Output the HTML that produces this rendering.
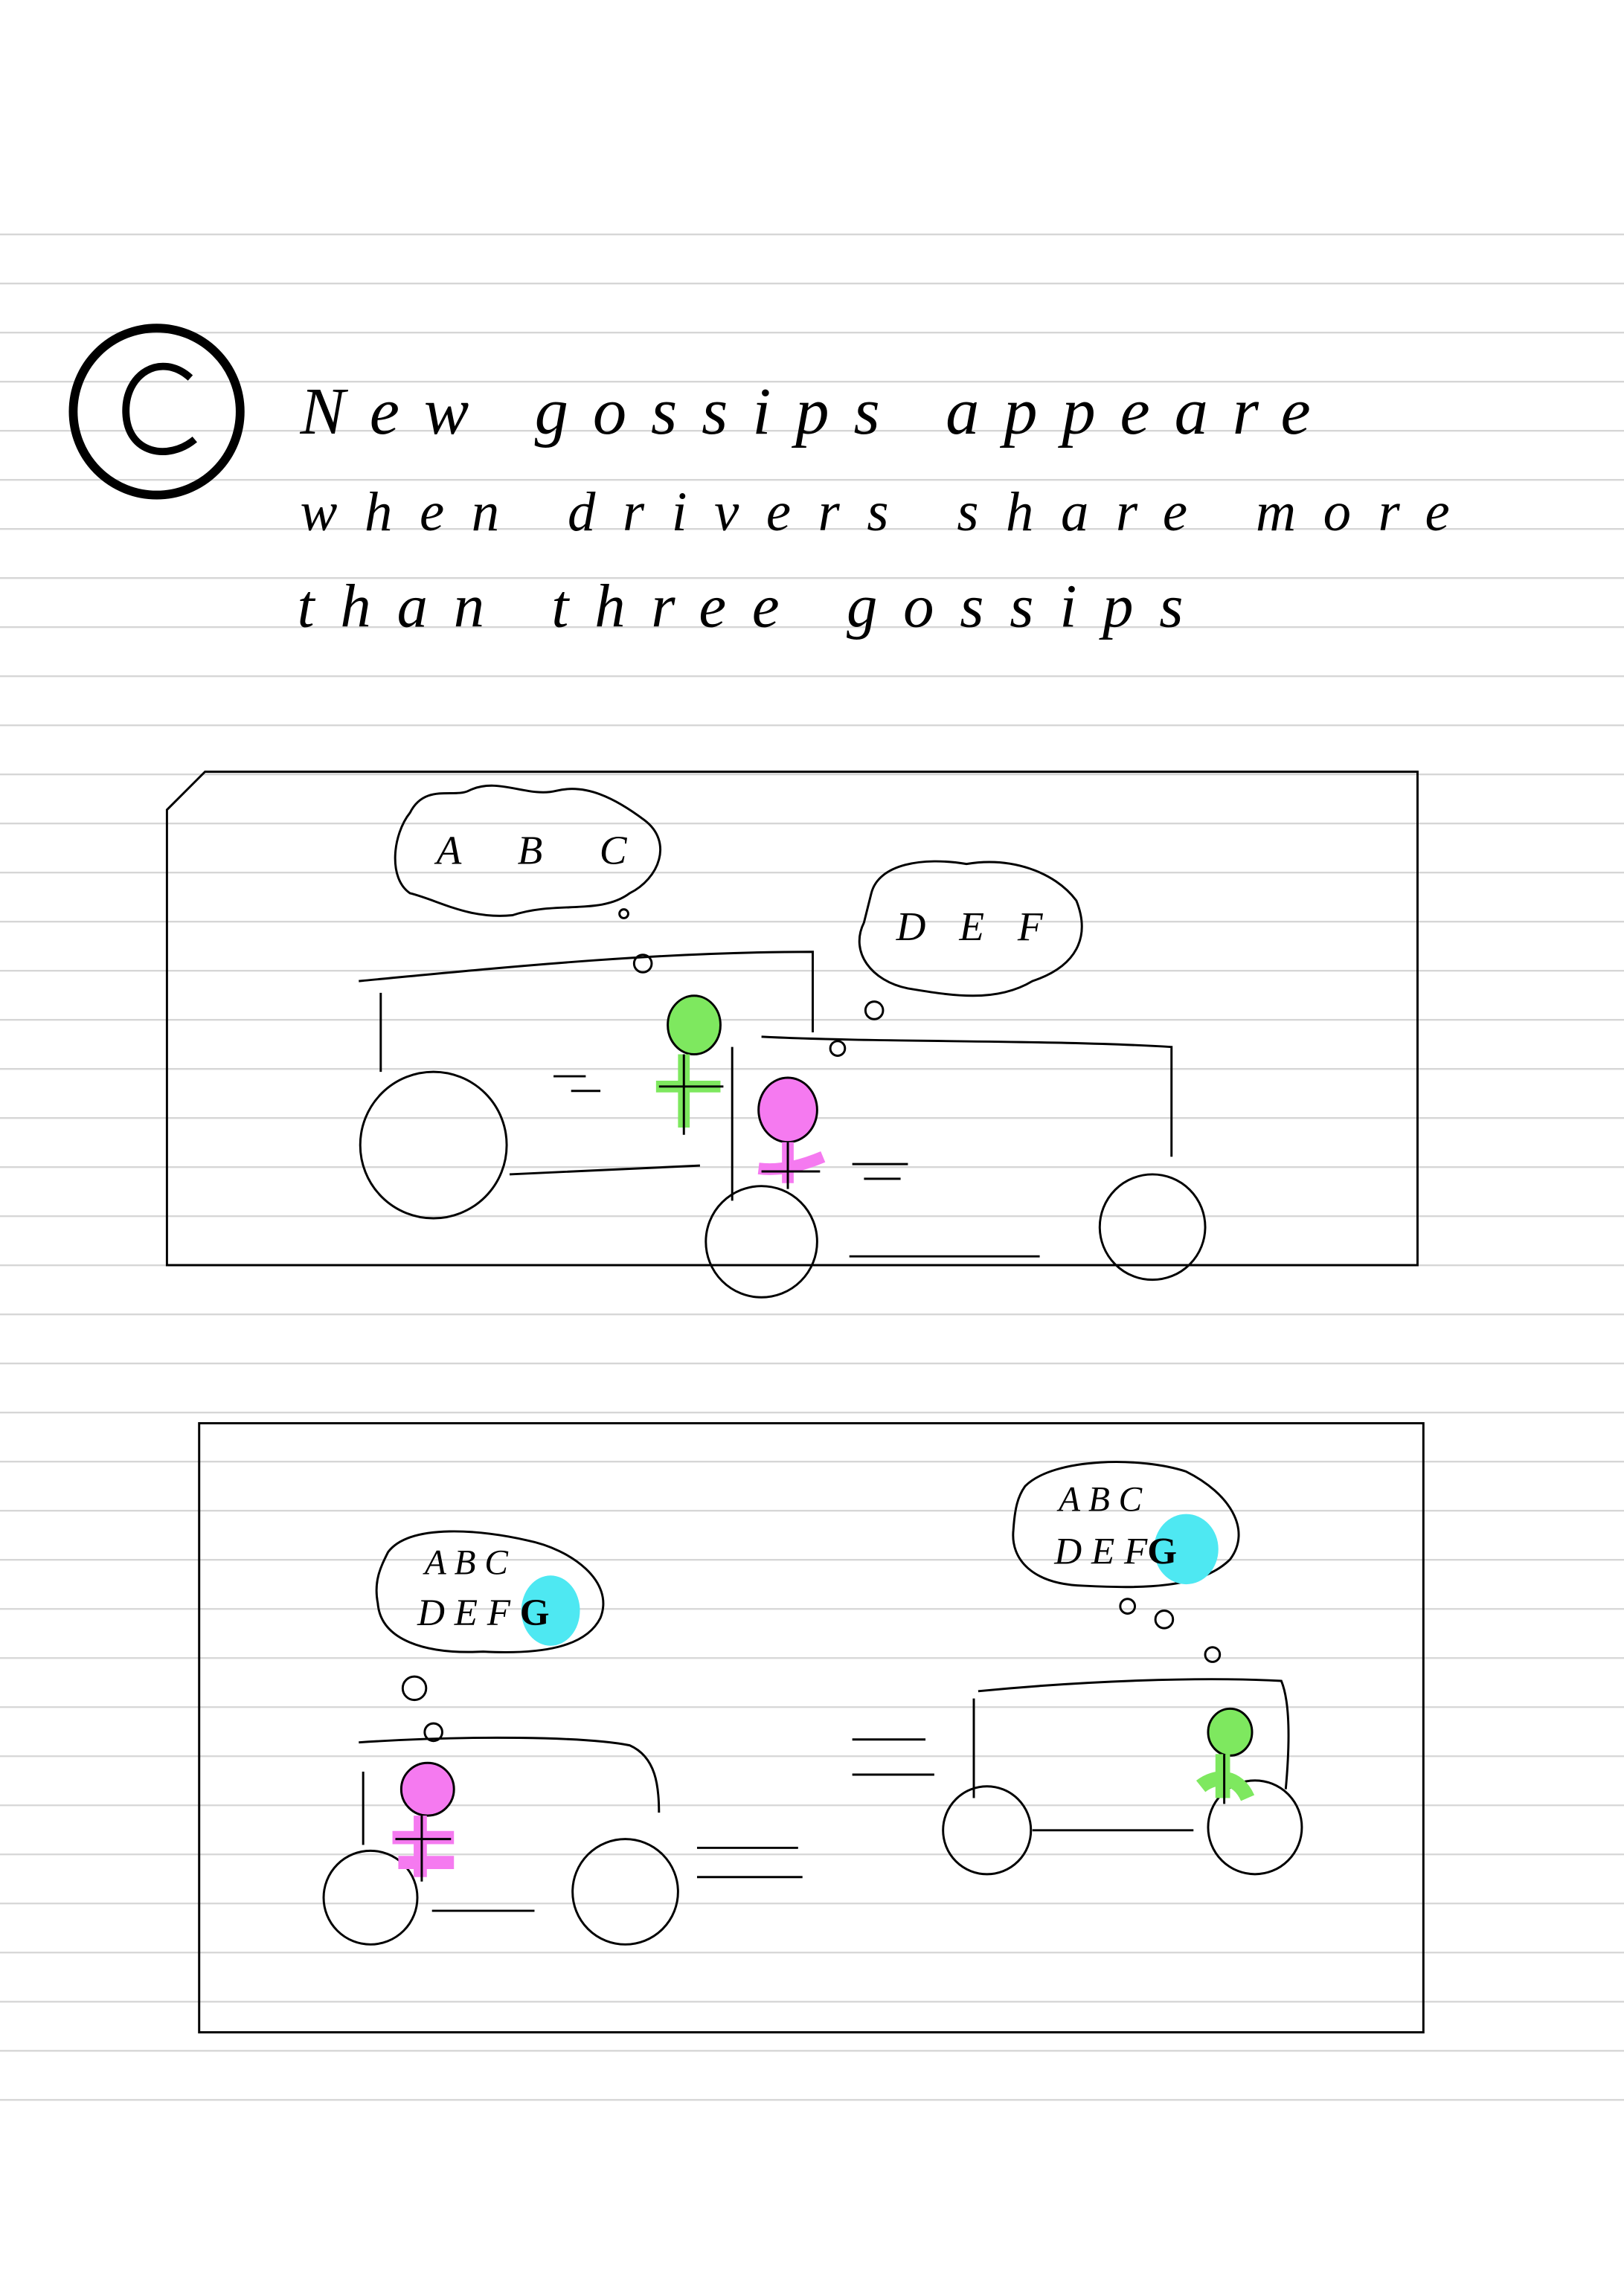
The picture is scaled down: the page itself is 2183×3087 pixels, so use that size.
<!DOCTYPE html>
<html><head><meta charset="utf-8"><style>
html,body{margin:0;padding:0;background:#fff}
svg{display:block}
.hw{font-family:"Liberation Serif",serif;font-style:italic;fill:#000}
</style></head><body>
<svg width="2183" height="3087" viewBox="0 0 1109 1568" xmlns="http://www.w3.org/2000/svg">
<rect width="1109" height="1568" fill="#fff"/>
<g id="rules" stroke="#d6d6d6" stroke-width="1.2"></g>
<script>
var g=document.getElementById('rules');
for(var i=0;i<39;i++){var y=160+i*33.53;var l=document.createElementNS('http://www.w3.org/2000/svg','line');
l.setAttribute('x1',0);l.setAttribute('x2',1109);l.setAttribute('y1',y);l.setAttribute('y2',y);


g.appendChild(l);}
</script>
<g>
<circle cx="107" cy="281" r="57" fill="none" stroke="#000" stroke-width="6"/>
<path d="M130 258 C110 240 85 255 86 282 C87 310 115 315 133 300" fill="none" stroke="#000" stroke-width="5"/>
<text class="hw" x="205" y="296" font-size="46" textLength="690" lengthAdjust="spacing">New   gossips   appeare</text>
<text class="hw" x="205" y="362" font-size="38" textLength="785" lengthAdjust="spacing">when     drivers   share   more</text>
<text class="hw" x="203" y="428" font-size="42" textLength="605" lengthAdjust="spacing">than   three   gossips</text>
</g>
<g fill="none" stroke="#000" stroke-width="1.5">
<path d="M140 527 H968 V864 H114 V553 Z"/>
<path d="M280 555 C290 535 310 545 320 540 C340 530 360 545 380 540 C400 535 420 545 440 560 C460 575 450 600 430 610 C410 625 380 615 350 625 C320 628 300 615 280 610 C265 600 268 570 280 555 Z"/>
<text class="hw" x="298" y="590" font-size="28" stroke="none" textLength="130" lengthAdjust="spacing">A  B  C</text>
<circle cx="426" cy="624" r="3"/><circle cx="439" cy="658" r="6"/>
<path d="M595 610 C600 590 630 585 660 590 C690 585 720 595 735 615 C745 640 735 660 705 670 C680 685 650 680 620 675 C595 670 580 650 590 630 Z"/>
<text class="hw" x="612" y="642" font-size="28" stroke="none" textLength="100" lengthAdjust="spacing">D E F</text>
<circle cx="597" cy="690" r="6"/><circle cx="572" cy="716" r="5"/>
<path d="M245 670 C350 660 450 650 555 650 V705 M260 678 V732 M348 802 C400 800 440 798 478 796 M378 735 H400 M390 745 H410"/>
<circle cx="296" cy="782" r="50"/>
<circle cx="520" cy="848" r="38"/>
<circle cx="787" cy="838" r="36"/>
<path d="M520 708 C600 712 720 710 800 715 V790 M500 715 V820 M580 858 H710 M582 795 H620 M590 805 H615"/>
<ellipse cx="474" cy="700" rx="18" ry="20" fill="#7ee85f" stroke="#000"/>
<path d="M467 720 V770 M448 742 H492" stroke="#7ee85f" stroke-width="8"/>
<path d="M467 720 V775 M450 742 H494"/>
<ellipse cx="538" cy="758" rx="20" ry="22" fill="#f57af0" stroke="#000"/>
<path d="M538 780 V808 M518 798 C535 800 550 795 562 790" stroke="#f57af0" stroke-width="8"/>
<path d="M538 780 V812 M520 800 H560"/>
</g>
<g fill="none" stroke="#000" stroke-width="1.5">
<rect x="136" y="972" width="836" height="416"/>
<path d="M265 1060 C280 1040 330 1045 360 1052 C390 1058 420 1080 410 1105 C400 1125 370 1130 330 1128 C290 1130 260 1120 258 1095 C255 1080 260 1070 265 1060 Z"/>
<ellipse cx="376" cy="1100" rx="20" ry="24" fill="#4ee8f2" stroke="none"/>
<text class="hw" x="290" y="1075" font-size="24" stroke="none">A B C</text>
<text class="hw" x="285" y="1110" font-size="26" stroke="none">D E F <tspan font-style="normal" font-weight="bold">G</tspan></text>
<circle cx="283" cy="1153" r="8"/><circle cx="296" cy="1183" r="6"/>
<path d="M245 1190 C320 1185 400 1186 430 1192 C448 1200 450 1220 450 1238 M248 1210 V1260 M295 1305 H365 M476 1262 H545 M476 1282 H548"/>
<circle cx="253" cy="1296" r="32"/>
<circle cx="427" cy="1292" r="36"/>
<ellipse cx="292" cy="1222" rx="18" ry="18" fill="#f57af0" stroke="#000"/>
<path d="M287 1240 V1282 M268 1255 H310 M272 1272 H310" stroke="#f57af0" stroke-width="9"/>
<path d="M288 1240 V1285 M270 1256 H308"/>
<path d="M582 1188 H632 M582 1212 H638"/>
<path d="M700 1015 C720 995 780 995 810 1005 C840 1020 855 1045 840 1065 C820 1085 780 1085 740 1083 C705 1082 690 1065 692 1045 C693 1030 695 1022 700 1015 Z"/>
<ellipse cx="810" cy="1058" rx="22" ry="24" fill="#4ee8f2" stroke="none"/>
<text class="hw" x="723" y="1032" font-size="24" stroke="none">A B C</text>
<text class="hw" x="720" y="1068" font-size="26" stroke="none">D E F<tspan font-style="normal" font-weight="bold">G</tspan></text>
<circle cx="770" cy="1097" r="5"/><circle cx="795" cy="1106" r="6"/><circle cx="828" cy="1130" r="5"/>
<path d="M668 1155 C740 1148 820 1145 875 1148 C882 1165 880 1200 878 1222 M665 1160 V1228 M705 1250 H815"/>
<circle cx="674" cy="1250" r="30"/>
<circle cx="857" cy="1248" r="32"/>
<ellipse cx="840" cy="1183" rx="15" ry="16" fill="#7ee85f" stroke="#000"/>
<path d="M835 1198 V1228 M820 1220 C830 1212 845 1212 852 1228" stroke="#7ee85f" stroke-width="10"/>
<path d="M836 1198 V1232"/>
</g>
</svg>
</body></html>
